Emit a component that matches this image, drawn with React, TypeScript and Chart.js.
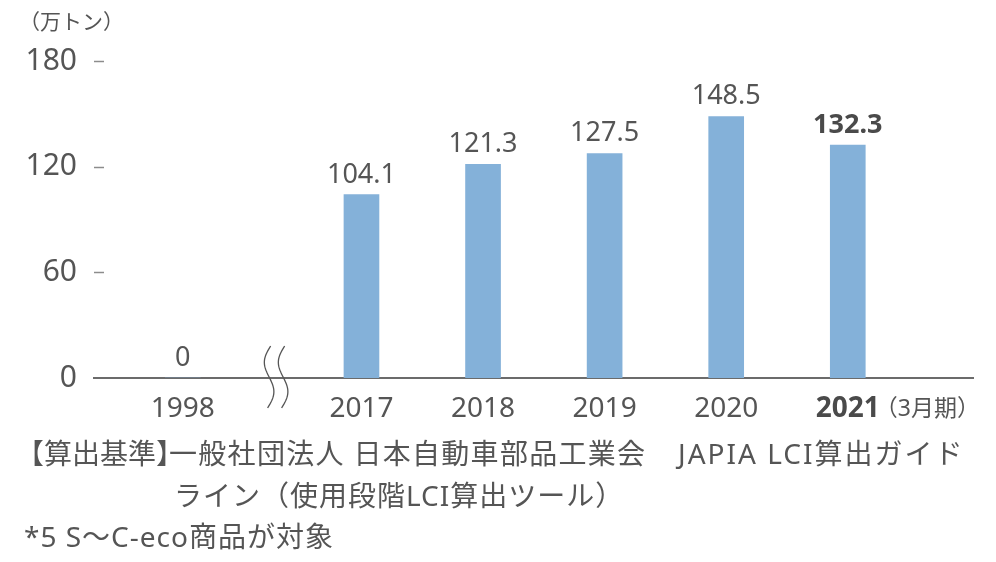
import React, { useEffect, useRef } from "react";
import { Chart, registerables } from "chart.js";

Chart.register(...registerables);

const categories = ["1998", "2017", "2018", "2019", "2020", "2021"];
const values = [0, 104.1, 121.3, 127.5, 148.5, 132.3];
const valueLabels = ["0", "104.1", "121.3", "127.5", "148.5", "132.3"];
const yTicks = [0, 60, 120, 180];
const unitLabel = "（万トン）";
const lastSuffix = "（3月期）";
const noteHead = "【算出基準】";
const noteLine1a = "一般社団法人 日本自動車部品工業会";
const noteLine1b = "JAPIA LCI算出ガイド";
const noteLine2 = "ライン（使用段階LCI算出ツール）";
const noteLine3 = "*5 S～C-eco商品が対象";

// extra category-slot gap after the axis break (between 1998 and 2017)
const BREAK_GAP = 0.47;
const positions = categories.map((_, i) => (i === 0 ? 0 : i + BREAK_GAP));

const FONT = '"Noto Sans", "Noto Sans CJK JP", sans-serif';
const TEXT = "#555555";
const BAR = "#84b1d9";

const overlay = {
  id: "overlay",
  afterDraw(chart: any) {
    const ctx = chart.ctx as CanvasRenderingContext2D;
    const xs = chart.scales.x;
    const ys = chart.scales.y;
    const area = chart.chartArea;
    ctx.save();

    // unit label
    ctx.fillStyle = TEXT;
    ctx.font = `21px ${FONT}`;
    ctx.textAlign = "left";
    ctx.textBaseline = "middle";
    ctx.fillText(unitLabel, 19, 23);

    // y tick dashes
    ctx.strokeStyle = "#8c8c8c";
    ctx.lineWidth = 1.5;
    yTicks.forEach((v) => {
      if (v === 0) return;
      const y = Math.round(ys.getPixelForValue(v)) + 0.5;
      ctx.beginPath();
      ctx.moveTo(area.left, y);
      ctx.lineTo(area.left + 10, y);
      ctx.stroke();
    });

    // value labels
    const meta = chart.getDatasetMeta(0);
    ctx.textAlign = "center";
    ctx.textBaseline = "alphabetic";
    meta.data.forEach((el: any, i: number) => {
      const last = i === values.length - 1;
      ctx.font = `${last ? "bold " : ""}27px ${FONT}`;
      ctx.fillStyle = last ? "#4a4a4a" : TEXT;
      ctx.fillText(valueLabels[i], el.x, el.y - 12);
    });

    // x labels
    categories.forEach((c, i) => {
      const x = xs.getPixelForValue(positions[i]);
      const last = i === categories.length - 1;
      ctx.textAlign = "center";
      ctx.font = `${last ? "bold " : ""}28px ${FONT}`;
      ctx.fillStyle = last ? "#4a4a4a" : TEXT;
      ctx.fillText(c, x, 417);
      if (last) {
        const w = ctx.measureText(c).width;
        ctx.font = `23px ${FONT}`;
        ctx.fillStyle = TEXT;
        ctx.textAlign = "left";
        ctx.fillText(lastSuffix, x + w / 2 - 5, 416);
      }
    });

    // axis break symbol
    const bx = xs.getPixelForValue((positions[0] + positions[1]) / 2) + 4;
    ctx.strokeStyle = "#555555";
    ctx.lineWidth = 1.3;
    [-7, 7].forEach((dx) => {
      const x0 = bx + dx;
      const top = 346;
      const h = 62;
      ctx.beginPath();
      for (let k = 0; k <= 40; k++) {
        const t = k / 40;
        const x = x0 + 1.5 - 3 * t - 5.5 * Math.sin(2 * Math.PI * t);
        const y = top + h * t;
        if (k === 0) ctx.moveTo(x, y);
        else ctx.lineTo(x, y);
      }
      ctx.stroke();
    });

    // footnotes
    ctx.fillStyle = TEXT;
    ctx.font = `28px ${FONT}`;
    ctx.textAlign = "left";
    ctx.textBaseline = "middle";
    (ctx as any).letterSpacing = "0px";
    ctx.fillText(noteHead, 16, 456);
    (ctx as any).letterSpacing = "1.3px";
    ctx.fillText(noteLine1a, 169, 456);
    (ctx as any).letterSpacing = "2px";
    ctx.fillText(noteLine1b, 678, 456);
    (ctx as any).letterSpacing = "1px";
    ctx.fillText(noteLine2, 174, 498);
    ctx.fillText(noteLine3, 24, 539);

    ctx.restore();
  },
};

export default function App() {
  const ref = useRef<HTMLCanvasElement | null>(null);
  useEffect(() => {
    if (!ref.current) return;
    const chart = new Chart(ref.current, {
      type: "bar",
      data: {
        datasets: [
          {
            data: positions.map((x, i) => ({ x, y: values[i] })),
            backgroundColor: BAR,
            barThickness: 35,
          },
        ],
      },
      options: {
        animation: false,
        responsive: false,
        layout: { padding: { top: 61, right: 23, left: 0, bottom: 0 } },
        plugins: { legend: { display: false }, tooltip: { enabled: false } },
        scales: {
          x: {
            type: "linear",
            offset: false,
            min: -0.73,
            max: positions[positions.length - 1] + 1.03,
            grid: { display: false, drawTicks: false, offset: false },
            border: { display: true, color: "#6b6b6b", width: 2 },
            ticks: { display: false },
            afterFit: (s: any) => {
              s.height = 184;
            },
          },
          y: {
            min: 0,
            max: 180,
            afterBuildTicks: (s: any) => {
              s.ticks = yTicks.map((v) => ({ value: v }));
            },
            grid: { display: false, drawTicks: false },
            border: { display: false },
            ticks: {
              color: TEXT,
              font: { family: FONT, size: 30 },
              padding: 17,
            },
            afterFit: (s: any) => {
              s.width = 94;
            },
          },
        },
      },
      plugins: [overlay],
    } as any);
    return () => chart.destroy();
  }, []);
  return (
    <div style={{ position: "fixed", left: 0, top: 0, width: 996, height: 562, background: "#fff" }}>
      <canvas ref={ref} width={996} height={562} />
    </div>
  );
}
